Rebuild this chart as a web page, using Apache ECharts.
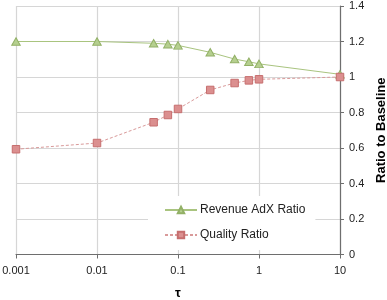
<!DOCTYPE html>
<html>
<head>
<meta charset="utf-8">
<script src="https://cdn.jsdelivr.net/npm/echarts@6/dist/echarts.min.js"></script>
<style>
html,body{margin:0;padding:0;background:#fff;}
#c{width:387px;height:300px;}
</style>
</head>
<body>
<div id="c"></div>
<script>
var tau = [0.001, 0.01, 0.05, 0.075, 0.1, 0.25, 0.5, 0.75, 1, 10];
var revenueAdX = [1.2, 1.2, 1.19, 1.185, 1.178, 1.139, 1.101, 1.086, 1.074, 1.015];
var quality = [0.593, 0.628, 0.745, 0.786, 0.82, 0.927, 0.966, 0.981, 0.987, 1.0];
var xTickLabels = ['0.001', '0.01', '0.1', '1', '10'];
var seriesNames = ['Revenue AdX Ratio', 'Quality Ratio'];

function pairs(xs, ys){ return xs.map(function(x,i){ return [x, ys[i]]; }); }

var font = 'Liberation Sans, Arial, sans-serif';
var chart = echarts.init(document.getElementById('c'), null, {renderer:'canvas'});
chart.setOption({
  animation: false,
  backgroundColor: '#fff',
  grid: {left: 16, right: 47, top: 6, bottom: 45.5, containLabel: false, outerBoundsMode: 'none'},
  xAxis: {
    type: 'log', logBase: 10, min: 0.001, max: 10,
    name: 'τ', nameLocation: 'middle', nameGap: 32,
    nameTextStyle: {fontFamily: font, fontSize: 13, fontWeight: 'bold', color: '#000'},
    axisLine: {show: true, onZero: false, lineStyle: {color: '#6e6e6e', width: 1.2}},
    axisTick: {show: true, inside: false, length: 4, lineStyle: {color: '#6e6e6e'}},
    axisLabel: {margin: 11, fontFamily: font, fontSize: 11, color: '#222',
      formatter: function(v){ return xTickLabels[Math.round(Math.log10(v)) + 3]; }},
    splitLine: {show: true, lineStyle: {color: '#d6d6d6', width: 1.2}},
    minorTick: {show: false}
  },
  yAxis: {
    type: 'value', position: 'right', min: 0, max: 1.4, interval: 0.2,
    name: 'Ratio to Baseline', nameLocation: 'middle', nameGap: 32, nameRotate: 90,
    nameTextStyle: {fontFamily: font, fontSize: 13, fontWeight: 'bold', color: '#000'},
    axisLine: {show: true, lineStyle: {color: '#6e6e6e', width: 1.2}},
    axisTick: {show: true, inside: false, length: 4, lineStyle: {color: '#6e6e6e'}},
    axisLabel: {margin: 9, fontFamily: font, fontSize: 11, color: '#222'},
    splitLine: {show: true, lineStyle: {color: '#d6d6d6', width: 1.2}}
  },
  legend: {
    orient: 'vertical', left: 148, top: 196,
    padding: [7, 10, 8, 16],
    backgroundColor: '#fff',
    itemWidth: 32, itemHeight: 8, itemGap: 11,
    textStyle: {fontFamily: font, fontSize: 12, color: '#222', lineHeight: 14, padding: [0,0,0,-2]},
    data: seriesNames
  },
  series: [
    {
      name: seriesNames[0], type: 'line', data: pairs(tau, revenueAdX),
      symbol: 'triangle', symbolSize: [8.5, 7.5],
      lineStyle: {color: '#a9c47f', width: 1},
      itemStyle: {color: '#b5cf8f', borderColor: '#92b066', borderWidth: 1},
      z: 3
    },
    {
      name: seriesNames[1], type: 'line', data: pairs(tau, quality),
      symbol: 'rect', symbolSize: 7.5,
      lineStyle: {color: '#d99a9a', width: 1, type: [3, 2]},
      itemStyle: {color: '#db8f8f', borderColor: '#c66e6e', borderWidth: 1},
      z: 4
    }
  ]
});
</script>
</body>
</html>
